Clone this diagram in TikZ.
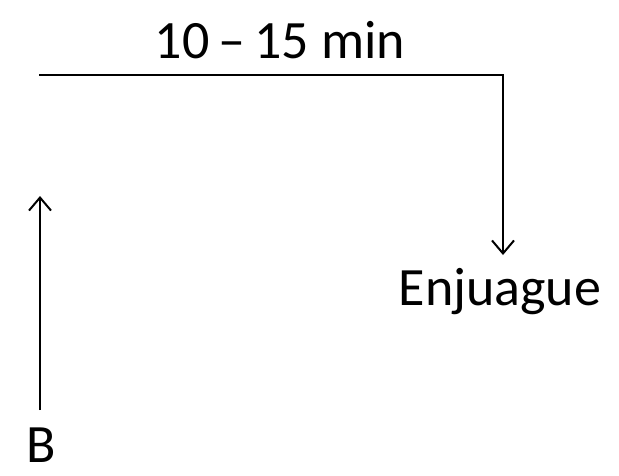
\documentclass[tikz,border=0pt]{standalone}
\usepackage{fontspec}
\setmainfont{Carlito}
\usetikzlibrary{arrows.meta}
\tikzset{
  lbl/.style={inner sep=0pt, font=\fontsize{54}{60}\selectfont},
  flow/.style={line width=2pt, -{Straight Barb[length=13pt, width=22pt, line width=2pt]}}
}

\begin{document}
\begin{tikzpicture}[x=1pt,y=1pt]
\useasboundingbox (0,0) rectangle (619,-475);
% Labels
\node[lbl] (time) at (280,-40) {10\,--\,15 min};
\node[lbl] (enj) at (500,-292) {Enjuague};
\node[lbl] (b) at (41,-445) {B};
% Connectors
\coordinate (start) at (39,-75);
\coordinate (corner) at (503,-75);
\coordinate (bend) at (503,-255);
\coordinate (up) at (40,-196);
\draw[line width=2pt] (start) -- (corner);
\draw[flow] ([yshift=1pt]corner) -- (bend);
\draw[flow] (40,-410) -- (up);
\end{tikzpicture}
\end{document}
